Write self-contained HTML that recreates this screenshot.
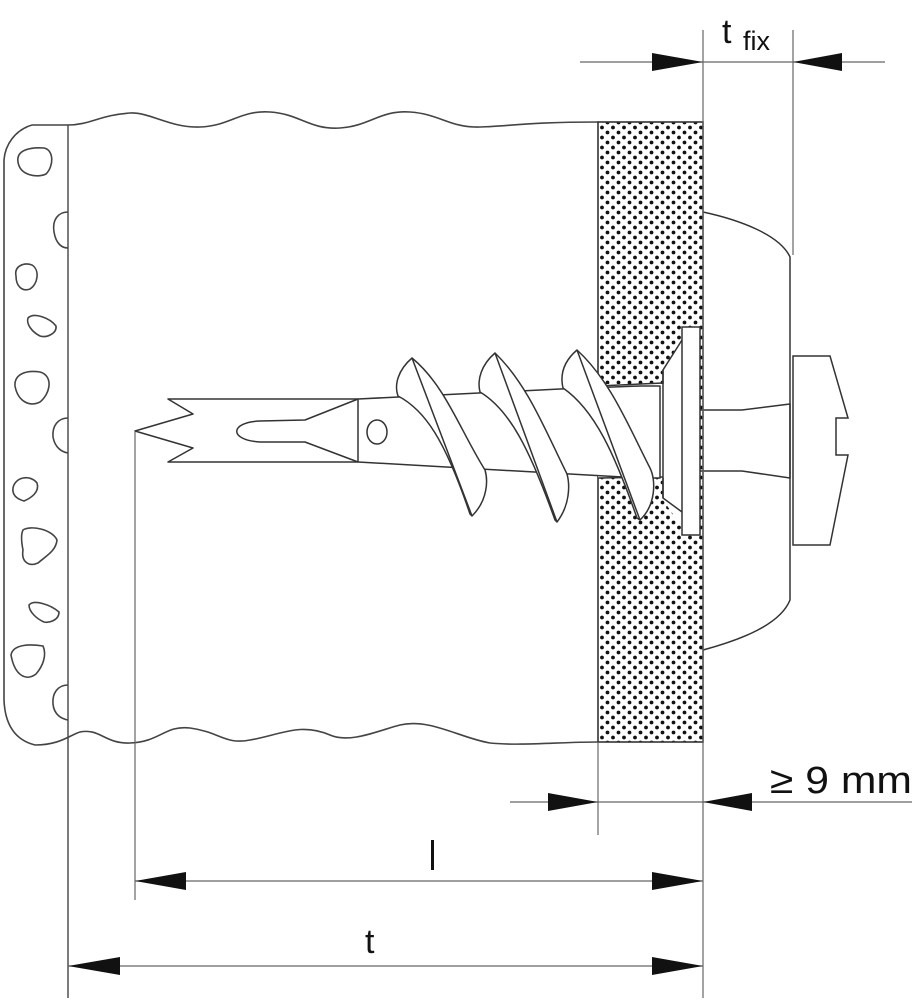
<!DOCTYPE html>
<html><head><meta charset="utf-8"><style>
html,body{margin:0;padding:0;background:#fff;}
svg{display:block;}
text{font-family:"Liberation Sans",sans-serif;fill:#111;}
</style></head><body>
<svg width="916" height="1000" viewBox="0 0 916 1000" xmlns="http://www.w3.org/2000/svg">
<defs>
<pattern id="dots" width="11" height="10" patternUnits="userSpaceOnUse">
<circle cx="2.5" cy="2.5" r="1.9" fill="#111"/>
<circle cx="8" cy="7.5" r="1.9" fill="#111"/>
</pattern>
</defs>
<g fill="none" stroke="#444" stroke-width="1.6">
<path d="M32,125 C15,130 5,145 4,160 L4,700 C5,725 15,740 35,745 C60,745 70,735 80,732 C100,728 105,744 130,743 C160,742 165,725 190,728 C220,732 225,745 250,740 C280,735 300,722 330,735 C350,744 380,730 400,725 C430,718 460,738 490,743 C520,746 560,742 598,742"/>
<path d="M32,125 L68,125 C90,125 100,115 130,113 C150,112 170,128 200,127 C230,126 240,110 270,112 C300,114 310,130 340,128 C370,126 380,110 410,112 C440,114 450,128 480,127 C510,126 530,122 598,122"/>
<line x1="68" y1="125" x2="68" y2="998" stroke-width="1.4"/>
<path d="M18,162 C16,150 30,147 44,148 C54,150 54,166 46,174 C38,178 20,176 18,162Z"/>
<path d="M68,212 C58,212 52,220 54,232 C56,244 62,248 68,248"/>
<path d="M16,276 C14,266 24,262 32,265 C40,270 38,284 30,289 C22,292 16,286 16,276Z"/>
<path d="M28,318 C34,312 50,318 56,326 C57,334 46,338 40,336 C32,332 26,324 28,318Z"/>
<path d="M15,386 C14,374 26,370 40,372 C54,376 50,394 40,402 C30,407 18,402 15,386Z"/>
<path d="M68,418 C58,418 52,426 53,437 C55,448 62,452 68,453"/>
<path d="M13,488 C15,477 30,474 37,483 C40,492 31,498 24,501 C17,499 12,495 13,488Z"/>
<path d="M23,530 C30,525 52,529 57,540 C56,551 46,556 38,563 C29,567 21,562 23,550 C21,540 21,534 23,530Z"/>
<path d="M29,605 C34,599 51,605 59,612 C59,621 48,623 44,622 C37,619 29,612 29,605Z"/>
<path d="M11,655 C13,644 30,644 43,646 C47,655 43,666 36,674 C27,681 15,677 11,655Z"/>
<path d="M68,685 C58,685 52,693 53,704 C54,715 62,719 68,720"/>
</g>
<rect x="598" y="122" width="105" height="620" fill="url(#dots)" stroke="#333" stroke-width="1.6"/>
<g fill="#fff" stroke="#333" stroke-width="1.5">
<path d="M598,384 L663,384 L663,370 L682,340 L682,527 L663,500 L663,478 L598,478 Z" stroke="none"/>
<line x1="598" y1="386" x2="663" y2="383"/>
<line x1="598" y1="478" x2="663" y2="477"/>
<path d="M663,384 L663,370 L682,340"/>
<path d="M663,478 L663,498 L682,512"/>
<line x1="663" y1="370" x2="663" y2="498"/>
<rect x="682" y="327" width="18" height="208"/>
<path d="M703,212 C740,220 780,235 790,257 L790,600 C780,625 740,640 703,650" fill="none"/>
<path d="M700,410 L742,410 L790,404 L790,478 L742,471 L700,471" fill="none"/>
<path d="M793,356 L830,356 L848,418 L836,418 L836,455 L848,455 L830,545 L793,545 Z"/>
</g>
<g fill="#fff" stroke="#333" stroke-width="1.5" stroke-linejoin="round">
<path d="M168,399 L358,399 L560,389 L640,386 L660,386 L660,478 L640,478 L358,462 L168,462 L193,448 L135,431 L193,414 Z"/>
<path d="M358,399 L358,462"/>
<path d="M358,399 L305,420 L260,421 C230,422 228,440 260,442 L305,442 L358,462" fill="none"/>
<ellipse cx="377" cy="432" rx="10" ry="12"/>
<path d="M412,358 C398,370 394,385 398,396 C425,410 445,440 470,514 L472,516 C488,500 488,480 485,470 C460,430 445,385 412,358Z"/>
<path d="M412,358 L472,516" fill="none"/>
<path d="M495,353 C481,365 477,380 480,392 C510,410 530,450 555,520 L557,522 C570,505 570,485 567,474 C545,430 528,385 495,353Z"/>
<path d="M495,353 L557,522" fill="none"/>
<path d="M577,350 C563,362 560,375 563,388 C595,410 615,455 637,518 L640,520 C656,505 656,480 650,468 C628,425 610,380 577,350Z"/>
<path d="M577,350 L640,520" fill="none"/>
</g>
<g stroke="#666" stroke-width="1.2" fill="none">
<line x1="135" y1="432" x2="135" y2="900"/>
<line x1="598" y1="742" x2="598" y2="835"/>
<line x1="703" y1="30" x2="703" y2="998"/>
<line x1="793" y1="30" x2="793" y2="255"/>
<line x1="580" y1="62" x2="885" y2="62"/>
<line x1="510" y1="802" x2="912" y2="802"/>
<line x1="68" y1="966" x2="703" y2="966"/>
<line x1="135" y1="881" x2="703" y2="881"/>
</g>
<g fill="#111">
<polygon points="652,53 703,62 652,71"/>
<polygon points="842,53 793,62 842,71"/>
<polygon points="548,793 598,802 548,811"/>
<polygon points="752,793 703,802 752,811"/>
<polygon points="135,881 186,872 186,890"/>
<polygon points="703,881 652,872 652,890"/>
<polygon points="68,966 120,957 120,975"/>
<polygon points="703,966 652,957 652,975"/>
</g>
<text x="722" y="43" font-size="34">t</text>
<text x="743" y="50" font-size="27">fix</text>
<text x="770" y="793" font-size="38" textLength="142" lengthAdjust="spacingAndGlyphs">≥ 9 mm</text>
<rect x="431" y="840" width="3" height="30" fill="#111"/>
<text x="365" y="953" font-size="34">t</text>
</svg>
</body></html>
